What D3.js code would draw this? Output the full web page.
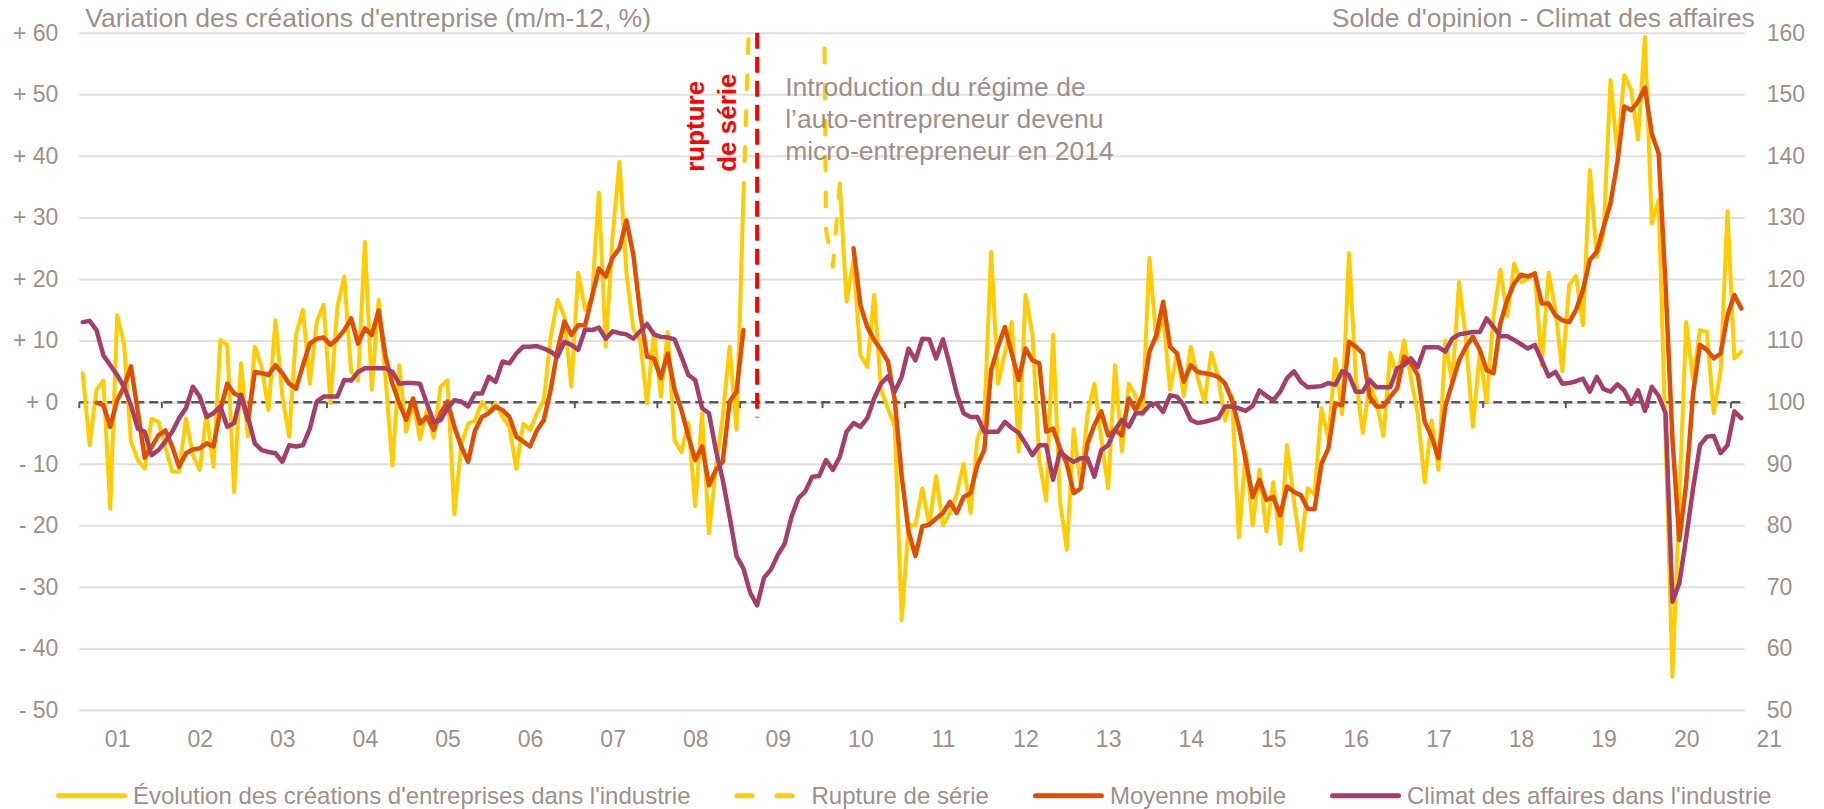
<!DOCTYPE html>
<html>
<head>
<meta charset="utf-8">
<script src="https://cdn.jsdelivr.net/npm/d3@7"></script>
<style>
  html, body { margin: 0; padding: 0; background: #fff; }
  svg text { font-family: "Liberation Sans", Arial, sans-serif; }
</style>
</head>
<body>
<div id="chart"></div>
<script>
// Mois : janvier 2001 -> février 2021
const months = d3.timeMonth.range(new Date(2001, 0, 1), new Date(2021, 2, 1));
const yearLabels = ["01","02","03","04","05","06","07","08","09","10","11","12","13","14","15","16","17","18","19","20","21"];
const leftTicks = [-50, -40, -30, -20, -10, 0, 10, 20, 30, 40, 50, 60];
const rightTicks = [50, 60, 70, 80, 90, 100, 110, 120, 130, 140, 150, 160];

// Évolution des créations d'entreprises dans l'industrie (m/m-12, %)
const creations = [
  4.7, -7, 2, 3.5, -17.3, 14.1, 9.5, -6.4, -9.4, -10.8, -2.7, -3.2,
  -7.3, -11.3, -11.3, -2.7, -8.6, -11, -1.8, -10.5, 10.1, 9.3, -14.6, 6.3,
  -5.6, 9, 5.7, -1.3, 13.3, 1, -5.6, 11, 15, 3, 13, 15.8,
  -0.2, 15.5, 20.4, 5, 3.5, 26, 2, 16.6, 4, -10.3, 6, -4.8,
  0, -6, -1.3, -5.8, 2.5, 3.5, -18.2, -7, -3.5, -3, 0, -1.6,
  -0.2, -2.4, -4, -10.8, -3.5, -4.5, -1.8, 0.3, 10.6, 16.6, 13.9, 2.5,
  21, 15, 17, 34, 9, 27, 39, 21, 12, 10, -0.2, 11.4,
  0.9, 11.4, -6.2, -8.1, -3.4, -16.9, -1.8, -21.3, -10.6, -2.4, 9, -4.5,
  33.3, null, null, null, null, null, null, null, null, null, null, null,
  null, null, 35.5, 16.3, 23, 7.6, 5.7, 17.4, 2, -1, -4, -35.4,
  -20, -20, -14, -20, -12, -20, -18, -15, -10, -18, -6, -3,
  24.4, 3, 8, 13, -8, 17.4, 11, -9.5, -16, 11, -16, -24,
  -4.4, -13.6, -2, 3, -6, -14, 6, -8, 3, 1, -2, 23.4,
  10, 14, 2, 8, 1, 9, 4, 0, 8, 4, -3, 1,
  -22, -8, -20, -11, -21, -13, -23, -7, -16, -24, -14, -15,
  -1, -6, 7, -2, 24.2, 4, -5, 3, 0, -5.5, 8, 4,
  10, 4, -2, -13, -3, -11, 10, 3, 19.5, 10, -4, 8,
  0, 14, 21.5, 14, 22.5, 19.5, 20, 21, 6, 21, 15, 5,
  19, 20.5, 12.5, 37.7, 23.6, 27.4, 52.3, 40.4, 53.1, 50.7, 42.6, 59.3,
  29, 32.8, -6, -44.6, -16, 13, 3.6, 11.7, 11.4, -1.8, 5.2, 31,
  7.1, 8.2
];

// Rupture de série (régime de l'auto-entrepreneur, hors échelle au-dessus de +60)
const rupture = [
  null, null, null, null, null, null, null, null, null, null, null, null,
  null, null, null, null, null, null, null, null, null, null, null, null,
  null, null, null, null, null, null, null, null, null, null, null, null,
  null, null, null, null, null, null, null, null, null, null, null, null,
  null, null, null, null, null, null, null, null, null, null, null, null,
  null, null, null, null, null, null, null, null, null, null, null, null,
  null, null, null, null, null, null, null, null, null, null, null, null,
  null, null, null, null, null, null, null, null, null, null, null, null,
  33.3, 68, 110, 140, 150, 160, 150, 145, 140, 130, 150, 170,
  28, 22, 35.5, null, null, null, null, null, null, null, null, null,
  null, null, null, null, null, null, null, null, null, null, null, null,
  null, null, null, null, null, null, null, null, null, null, null, null,
  null, null, null, null, null, null, null, null, null, null, null, null,
  null, null, null, null, null, null, null, null, null, null, null, null,
  null, null, null, null, null, null, null, null, null, null, null, null,
  null, null, null, null, null, null, null, null, null, null, null, null,
  null, null, null, null, null, null, null, null, null, null, null, null,
  null, null, null, null, null, null, null, null, null, null, null, null,
  null, null, null, null, null, null, null, null, null, null, null, null,
  null, null, null, null, null, null, null, null, null, null, null, null,
  null, null
];

// Moyenne mobile (3 mois)
const moyenneMobile = [
  null, null, -0.1, -0.5, -4, 0.3, 2.5, 5.8, -1.5, -9, -7.3, -5.4,
  -4.6, -7.2, -10.5, -8.3, -7.7, -7.5, -6.7, -7.2, -1.3, 3, 1.4, 0.9,
  -3, 4.9, 4.7, 4.4, 6, 4.7, 3, 2.2, 6, 9.5, 10.3, 10.5,
  9.3, 10.3, 11.7, 13.6, 9.5, 12, 10.9, 14.9, 7.4, 3, -0.2, -2.9,
  0.6, -3.5, -2.4, -4.5, -1.8, 0.1, -4, -7.2, -9.7, -4.6, -2.4, -1.8,
  -0.7, -1.3, -2.4, -5.6, -6.4, -7.2, -4.6, -2.9, 2, 8.5, 13.1, 10.9,
  12.5, 12.5, 17.1, 21.7, 20.4, 23.5, 25, 29.5, 24, 14.5, 7.4, 7.1,
  3.9, 7.9, 2, -1.3, -5.5, -9.4, -7.2, -13.5, -11, -9.7, 0.1, 1.7,
  11.7, null, null, null, null, null, null, null, null, null, null, null,
  null, null, null, null, 25, 15.8, 12.2, 10.1, 8.5, 6.6, 0.3, -12,
  -21, -25, -20.2, -19.9, -18.9, -18, -16.2, -18, -15.4, -14.8, -10.2, -7.8,
  5.2, 9, 12.2, 7.9, 3.6, 8.7, 6.8, 6.3, -4.8, -4.3, -7.5, -10,
  -14.8, -14, -6.7, -3.7, -1.5, -5.4, -4.5, -5.4, 0.6, -1.3, 1.1, 8.2,
  10.9, 16.3, 9, 7.9, 3.3, 6, 4.9, 4.7, 4.5, 4.1, 3, 0.3,
  -4, -9.5, -15.4, -12.6, -15.9, -15.4, -18.4, -13.7, -14.6, -15.1, -17.3, -17.4,
  -10, -7.5, -0.2, -0.5, 9.8, 9, 7.9, 0.9, -0.7, -0.7, 0.9, 2.2,
  7.4, 6.3, 4.4, -3.2, -5.6, -9.1, -0.7, 3.1, 6.8, 9, 10.6, 8.5,
  5.2, 4.7, 12.8, 16.6, 19.3, 20.7, 20.4, 20.9, 16, 16, 14.1, 13.3,
  13, 15, 18.2, 23.1, 24.4, 28.5, 32.3, 39, 48, 47.4, 48.8, 51.1,
  43.6, 40.4, 19, -6, -22.4, -13.2, 1.4, 9.3, 8.5, 7.1, 7.9, 14.1,
  17.4, 15.2
];

// Climat des affaires dans l'industrie (axe de droite)
const climat = [
  113, 113.2, 111.7, 107.6, 106, 104.4, 102.5, 99.5, 95.7, 95.2, 91.4, 92.2,
  93.6, 95.2, 97.4, 99, 102.5, 100.9, 97.6, 98.2, 99.3, 96, 96.6, 101.2,
  97.6, 93.3, 92.2, 91.9, 91.7, 90.3, 93, 92.8, 93, 95.7, 100.1, 100.9,
  100.9, 100.9, 103.6, 103.5, 104.9, 105.5, 105.5, 105.5, 105.5, 104.9, 103, 103.1,
  103.1, 103, 99.8, 96.8, 97.1, 99, 100.3, 100.1, 99.3, 101.4, 101.4, 104.1,
  103.3, 106.6, 106.3, 107.9, 109, 109, 109.1, 108.7, 108.2, 107.4, 109.8, 109.3,
  108.5, 111.8, 111.7, 112.1, 110.3, 111.5, 111.2, 111, 110.3, 111.5, 112.7, 111,
  110.6, 110.5, 110.2, 107.4, 104.4, 103.6, 99, 98.2, 92.2, 87.4, 81.4, 75,
  73, 69, 67, 71.5, 72.8, 75.2, 77, 81.4, 84.4, 85.5, 87.9, 88,
  90.6, 89, 91.1, 95.2, 96.6, 96, 97.4, 100.6, 103, 104.2, 101.7, 104.1,
  108.7, 106.8, 110.3, 110.2, 107.1, 110.2, 106, 101.4, 98.2, 97.6, 97.6, 95.2,
  95.2, 95.2, 96.8, 95.8, 95, 93.3, 91.4, 93, 93, 87.4, 91.9, 91,
  90.3, 90.9, 90.9, 87.9, 92.2, 93, 95.5, 97.1, 96, 98.2, 98.2, 99.5,
  99.8, 98.4, 101.1, 100.9, 99.5, 97.1, 96.6, 96.8, 97.1, 97.4, 99.3, 99.3,
  99, 98.6, 99.4, 101.9, 101, 100.3, 101.7, 103.9, 105, 103.3, 102.4, 102.5,
  102.6, 103.1, 102.8, 105, 104.4, 101.7, 101.7, 103.6, 102.4, 102.4, 102.4, 105.5,
  106, 107.1, 105.7, 108.9, 108.9, 108.9, 108.2, 110.3, 111, 111.2, 111.4, 111.4,
  113.6, 112.2, 110.7, 110.7, 110.1, 109.4, 108.7, 109.3, 106.8, 104.2, 104.9, 103,
  103.1, 103.4, 103.8, 101.7, 104.1, 102.1, 101.7, 102.9, 101.9, 99.7, 101.9, 98.6,
  102.5, 101, 98.2, 67.6, 70.6, 78, 86, 93, 94.4, 94.5, 91.7, 93,
  98.5, 97.4
];

const ruptureMonth = 98;          // mars 2009
const ruptureSpan = [60, -2.5];   // étendue verticale du trait rouge (axe de gauche)

const YELLOW = "#ffcc00", ORANGE = "#df4f00", PURPLE = "#a53f6a", RED = "#ff0000";
const TEXT = "#9e8f89", GRID = "#e4dede", ZERO = "#595959";
const FONT = "Liberation Sans, Arial, sans-serif";

const width = 1824, height = 809;
const margin = { top: 32.7, right: 79.3, bottom: 99, left: 79.3 };
const plotW = width - margin.left - margin.right;
const plotH = height - margin.top - margin.bottom;

const svg = d3.select("#chart")
    .append("svg")
    .attr("width", width)
    .attr("height", height);

const g = svg.append("g")
    .attr("transform", `translate(${margin.left}, ${margin.top})`);

// Échelles
const x = d3.scaleLinear()
    .domain([-0.5, months.length - 0.5])
    .range([0, plotW]);

const yL = d3.scaleLinear().domain([-50, 60]).range([plotH, 0]);
const yR = d3.scaleLinear().domain([50, 160]).range([plotH, 0]);

// Quadrillage
g.append("g")
    .call(d3.axisLeft(yL).tickValues(leftTicks).tickSize(-plotW).tickFormat(""))
    .call(s => s.select(".domain").remove())
    .selectAll("line")
    .attr("stroke", GRID)
    .attr("stroke-width", 2);

// style commun des axes (après l'appel, sinon d3 remet font-size 10)
const styleAxis = s => {
    s.attr("font-size", 23).attr("font-family", FONT).attr("color", TEXT);
    s.select(".domain").remove();
};

// Axe de gauche
const fmtLeft = d => (d < 0 ? "- " : "+ ") + Math.abs(d);
g.append("g")
    .call(d3.axisLeft(yL).tickValues(leftTicks).tickSize(0).tickPadding(21).tickFormat(fmtLeft))
    .call(styleAxis);

// Axe de droite
g.append("g")
    .attr("transform", `translate(${plotW}, 0)`)
    .call(d3.axisRight(yR).tickValues(rightTicks).tickSize(0).tickPadding(22))
    .call(styleAxis);

// Axe des années
g.append("g")
    .attr("transform", `translate(0, ${plotH})`)
    .call(d3.axisBottom(x)
        .tickValues(yearLabels.map((_, k) => 12 * k + 5))
        .tickFormat(d => yearLabels[(d - 5) / 12])
        .tickSize(0).tickPadding(21))
    .call(styleAxis);

// Ligne du zéro (pointillés) avec graduations annuelles
g.append("line")
    .attr("x1", 0).attr("x2", plotW)
    .attr("y1", yL(0)).attr("y2", yL(0))
    .attr("stroke", ZERO).attr("stroke-width", 2.5)
    .attr("stroke-dasharray", "9,5");

g.selectAll(".yearTick")
    .data(d3.range(0, 21))
    .enter().append("line")
    .attr("class", "yearTick")
    .attr("x1", k => x(12 * k - 0.5)).attr("x2", k => x(12 * k - 0.5))
    .attr("y1", yL(0)).attr("y2", yL(0) + 6)
    .attr("stroke", ZERO).attr("stroke-width", 2);

// Zone de tracé
svg.append("clipPath").attr("id", "plotClip")
    .append("rect")
    .attr("x", -10).attr("y", 0)
    .attr("width", plotW + 20).attr("height", plotH);

const series = g.append("g").attr("clip-path", "url(#plotClip)");

const toPoints = arr => arr.map((v, i) => ({ i, v }));
const lineOf = y => d3.line()
    .defined(d => d.v != null)
    .x(d => x(d.i))
    .y(d => y(d.v));

series.append("path")
    .attr("d", lineOf(yL)(toPoints(creations)))
    .attr("fill", "none").attr("stroke", YELLOW).attr("stroke-width", 4)
    .attr("stroke-linejoin", "round").attr("stroke-linecap", "round");

series.append("path")
    .attr("d", lineOf(yL)(toPoints(rupture)))
    .attr("fill", "none").attr("stroke", YELLOW).attr("stroke-width", 4)
    .attr("stroke-dasharray", "14,22")
    .attr("stroke-linejoin", "round").attr("stroke-linecap", "round");

series.append("path")
    .attr("d", lineOf(yL)(toPoints(moyenneMobile)))
    .attr("fill", "none").attr("stroke", ORANGE).attr("stroke-width", 4.5)
    .attr("stroke-linejoin", "round").attr("stroke-linecap", "round");

series.append("path")
    .attr("d", lineOf(yR)(toPoints(climat)))
    .attr("fill", "none").attr("stroke", PURPLE).attr("stroke-width", 4.5)
    .attr("stroke-linejoin", "round").attr("stroke-linecap", "round");

// Rupture de série
const rx = x(ruptureMonth);
g.append("line")
    .attr("x1", rx).attr("x2", rx)
    .attr("y1", yL(ruptureSpan[0])).attr("y2", yL(ruptureSpan[1]))
    .attr("stroke", RED).attr("stroke-width", 4)
    .attr("stroke-dasharray", "16,8");

["rupture", "de série"].forEach((t, k) => {
    g.append("text")
        .attr("transform", `translate(${rx - 53 + k * 32}, ${yL(37.4)}) rotate(-90)`)
        .style("fill", RED)
        .style("font-size", "26px")
        .style("font-weight", "bold")
        .text(t);
});

["Introduction du régime de", "l’auto-entrepreneur devenu", "micro-entrepreneur en 2014"].forEach((t, k) => {
    g.append("text")
        .attr("x", rx + 28)
        .attr("y", 63.3 + k * 32)
        .style("fill", TEXT)
        .style("font-size", "26.5px")
        .text(t);
});

// Titres des axes
svg.append("text")
    .attr("x", margin.left + 6).attr("y", 27)
    .style("fill", TEXT).style("font-size", "26.5px")
    .text("Variation des créations d'entreprise (m/m-12, %)");

svg.append("text")
    .attr("x", margin.left + plotW + 10).attr("y", 27)
    .attr("text-anchor", "end")
    .style("fill", TEXT).style("font-size", "26.5px")
    .text("Solde d'opinion - Climat des affaires");

// Légende
const legendItems = [
    { label: "Évolution des créations d'entreprises dans l'industrie", color: YELLOW, dash: null },
    { label: "Rupture de série", color: YELLOW, dash: "15,25" },
    { label: "Moyenne mobile", color: ORANGE, dash: null },
    { label: "Climat des affaires dans l'industrie", color: PURPLE, dash: null }
];

const legend = svg.append("g");
let lx = 56;
legendItems.forEach(it => {
    legend.append("line")
        .attr("x1", lx + 2.5).attr("x2", lx + 68.5)
        .attr("y1", 795.7).attr("y2", 795.7)
        .attr("stroke", it.color).attr("stroke-width", 5)
        .attr("stroke-linecap", "round")
        .attr("stroke-dasharray", it.dash);
    const t = legend.append("text")
        .attr("x", lx + 77).attr("y", 804)
        .style("fill", TEXT).style("font-size", "24px")
        .text(it.label);
    lx = lx + 77 + t.node().getComputedTextLength() + 44;
});
</script>
</body>
</html>
